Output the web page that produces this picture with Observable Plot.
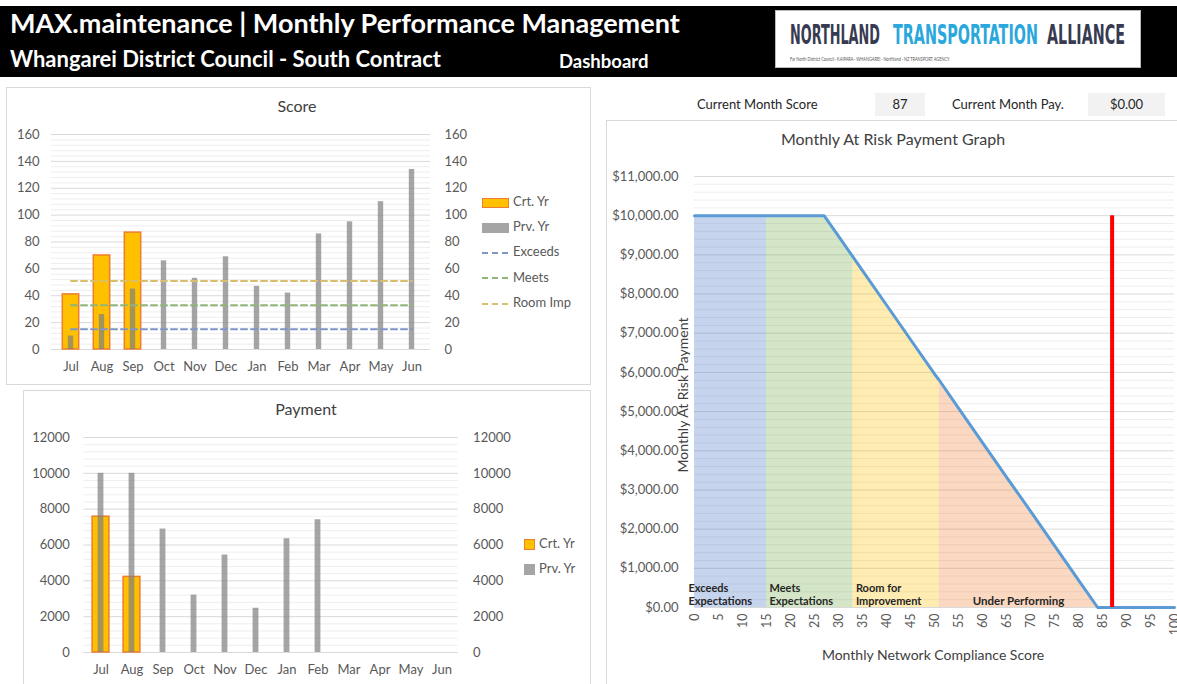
<!DOCTYPE html>
<html>
<head>
<meta charset="utf-8">
<script src="https://cdn.jsdelivr.net/npm/d3@7"></script>
<script src="https://cdn.jsdelivr.net/npm/@observablehq/plot@0.6"></script>
<style>
  html, body { margin:0; padding:0; background:#fff; width:1177px; height:684px; overflow:hidden; font-family: Lato, "Open Sans", sans-serif; }
  .abs { position:absolute; }
  .panel { position:absolute; border:1px solid #d9d9d9; background:#fff; box-sizing:border-box; }
  .ptitle { position:absolute; font-size:16px; color:#404040; transform:translateX(-50%); white-space:nowrap; }
  .leg { position:absolute; font-size:13px; color:#595959; white-space:nowrap; line-height:14px; }
  .sw { display:inline-block; vertical-align:middle; margin-right:4px; }
  .kpi { position:absolute; font-size:13px; color:#262626; white-space:nowrap; }
  .kbox { position:absolute; background:#f2f2f2; font-size:13px; color:#262626; text-align:center; line-height:23px; }
</style>
</head>
<body>
<div id="root" style="position:relative;width:1177px;height:684px;"></div>
<script>
// ---------------- DATA ----------------
const months = ["Jul","Aug","Sep","Oct","Nov","Dec","Jan","Feb","Mar","Apr","May","Jun"];
const scoreCrt = [41, 70, 87];
const scorePrv = [10, 26, 45, 66, 53, 69, 47, 42, 86, 95, 110, 134];
const targetNames = ["Exceeds", "Meets", "Room Imp"];
const targetValues = [15, 33, 51];
const payCrt = [7580, 4220];
const payPrv = [10000, 10000, 6890, 3200, 5440, 2470, 6350, 7410];
const riskScore = [0, 5, 10, 15, 20, 25, 27, 30, 33, 35, 40, 45, 50, 51, 55, 60, 65, 70, 75, 80, 84, 85, 90, 95, 100];
const riskPay   = [10000, 10000, 10000, 10000, 10000, 10000, 10000, 9480, 8950, 8600, 7720, 6840, 5960, 5800, 5090, 4210, 3330, 2460, 1580, 700, 0, 0, 0, 0, 0];
const bandNames = ["Exceeds\nExpectations", "Meets\nExpectations", "Room for\nImprovement", "Under Performing"];
const bandEdges = [0, 15, 33, 51, 84];
const currentScore = 87;
const currentPay = 0;
const scoreTicks = [0, 20, 40, 60, 80, 100, 120, 140, 160];
const payTicks = [0, 2000, 4000, 6000, 8000, 10000, 12000];
const riskYTicks = [0,1000,2000,3000,4000,5000,6000,7000,8000,9000,10000,11000];
const riskXTicks = [0,5,10,15,20,25,30,35,40,45,50,55,60,65,70,75,80,85,90,95,100];
const logoWords = ["NORTHLAND", "TRANSPORTATION", "ALLIANCE"];

// ---------------- STYLE ----------------
const C = {
  crt: "#ffc000", crtStroke: "#ed7d31", prv: "#7f7f7f",
  targets: ["#7f96c8", "#8fb57a", "#d9bf6c"],
  bands: ["#4472c4", "#70ad47", "#ffc000", "#ed7d31"],
  grid: "#d9d9d9", minor: "#eeeeee", text: "#595959"
};
const baseStyle = { fontFamily: "Lato, 'Open Sans', sans-serif", fontSize: "13px", color: C.text, background: "transparent", overflow: "visible" };
const root = document.getElementById("root");
function add(html) { root.insertAdjacentHTML("beforeend", html); }
function place(svg, left, top) { svg.style.position = "absolute"; svg.style.left = left + "px"; svg.style.top = top + "px"; root.appendChild(svg); }

// ---------------- HEADER ----------------
add(`<div class="abs" style="left:0;top:6px;width:1177px;height:71px;background:#000;"></div>`);
add(`<div class="abs" style="left:10px;top:6px;color:#fff;font-weight:700;font-size:27px;white-space:nowrap;">MAX.maintenance | Monthly Performance Management</div>`);
add(`<div class="abs" style="left:10px;top:45px;color:#fff;font-weight:700;font-size:22px;white-space:nowrap;">Whangarei District Council - South Contract</div>`);
add(`<div class="abs" style="left:559px;top:50px;color:#fff;font-weight:700;font-size:18.5px;white-space:nowrap;">Dashboard</div>`);
add(`<svg id="logo" class="abs" style="left:775px;top:10px;" width="366" height="58">
  <rect x="0.5" y="0.5" width="365" height="57" fill="#fff" stroke="#bbb"/>
</svg>`);
{
  const logo = d3.select("#logo");
  const lx = [15, 118, 272], lw = [90, 145, 78], lc = ["#373b52", "#2aa7dc", "#373b52"];
  logoWords.forEach((w, i) => {
    const g = logo.append("g");
    const t = g.append("text").attr("fill", lc[i]).attr("font-family", "'DejaVu Sans Condensed','DejaVu Sans',sans-serif")
      .attr("font-weight", 700).attr("font-size", 27).text(w);
    const len = t.node().getComputedTextLength();
    g.attr("transform", `translate(${lx[i]},34) scale(${lw[i] / len},1)`);
  });
  const g2 = logo.append("g");
  const t2 = g2.append("text").attr("fill", "#555").attr("font-family", "Lato, sans-serif").attr("font-size", 6.5)
    .text("Far North District Council · KAIPARA · WHANGAREI · Northland · NZ TRANSPORT AGENCY");
  const l2 = t2.node().getComputedTextLength();
  g2.attr("transform", `translate(15,51) scale(${Math.min(1, 160 / l2)},1)`);
}

// ---------------- PANELS ----------------
add(`<div class="panel" style="left:6px;top:87px;width:585px;height:298px;"></div>`);
add(`<div class="panel" style="left:23px;top:390px;width:568px;height:300px;"></div>`);
add(`<div class="panel" style="left:606px;top:120px;width:580px;height:570px;"></div>`);
add(`<div class="ptitle" style="left:297px;top:96px;">Score</div>`);
add(`<div class="ptitle" style="left:306px;top:399px;">Payment</div>`);
add(`<div class="ptitle" style="left:893px;top:129px;">Monthly At Risk Payment Graph</div>`);

// KPI
add(`<div class="kpi" style="left:697px;top:96px;">Current Month Score</div>`);
add(`<div class="kbox" style="left:875px;top:93px;width:50px;height:23px;">${currentScore}</div>`);
add(`<div class="kpi" style="left:952px;top:96px;">Current Month Pay.</div>`);
add(`<div class="kbox" style="left:1088px;top:93px;width:77px;height:23px;">${d3.format("$,.2f")(currentPay)}</div>`);

// ---------------- SCORE CHART ----------------
const scoreCrtRows = scoreCrt.map((v, i) => ({m: months[i], v}));
const scorePrvRows = scorePrv.map((v, i) => ({m: months[i], v}));
const minorScore = d3.range(0, 161, 4).filter(v => v % 20);
const targetRows = targetNames.flatMap((n, i) => [{n, m: months[0], v: targetValues[i]}, {n, m: months[months.length - 1], v: targetValues[i]}]);

const scorePlot = Plot.plot({
  width: 583, height: 296,
  marginLeft: 44, marginRight: 160, marginTop: 46, marginBottom: 35,
  x: {type: "band", domain: months, padding: 0},
  y: {domain: [0, 160]},
  style: baseStyle,
  marks: [
    Plot.ruleY(minorScore, {stroke: C.minor}),
    Plot.ruleY(scoreTicks, {stroke: C.grid}),
    Plot.barY(scoreCrtRows, {x: "m", y: "v", fill: C.crt, stroke: C.crtStroke, strokeWidth: 1.5, insetLeft: 7.3, insetRight: 7.3}),
    Plot.barY(scorePrvRows, {x: "m", y: "v", fill: C.prv, fillOpacity: 0.7, insetLeft: 12.8, insetRight: 12.8}),
    ...targetNames.map((n, i) => Plot.lineY(targetRows.filter(d => d.n === n), {x: "m", y: "v", stroke: C.targets[i], strokeWidth: 2, strokeDasharray: "6,4"})),
    Plot.axisY({anchor: "left", ticks: scoreTicks, tickSize: 0, tickPadding: 12, label: null}),
    Plot.axisY({anchor: "right", ticks: scoreTicks, tickSize: 0, tickPadding: 14, label: null}),
    Plot.axisX({tickSize: 0, tickPadding: 12, label: null})
  ]
});
place(scorePlot, 7, 88);

// score legend
const scoreLegend = [
  {label: "Crt. Yr", sw: `<span class="sw" style="width:25px;height:8px;background:${C.crt};border:1.5px solid ${C.crtStroke};"></span>`},
  {label: "Prv. Yr", sw: `<span class="sw" style="width:27px;height:10px;background:#a5a5a5;"></span>`},
  ...targetNames.map((n, i) => ({label: n, sw: `<svg class="sw" width="27" height="4"><line x1="0" y1="2" x2="27" y2="2" stroke="${C.targets[i]}" stroke-width="2" stroke-dasharray="6,4"/></svg>`}))
];
scoreLegend.forEach((d, i) => add(`<div class="leg" style="left:482px;top:${194 + i * 25.2}px;">${d.sw}${d.label}</div>`));

// ---------------- PAYMENT CHART ----------------
const payCrtRows = payCrt.map((v, i) => ({m: months[i], v}));
const payPrvRows = payPrv.map((v, i) => ({m: months[i], v}));
const minorPay = d3.range(0, 12001, 400).filter(v => v % 2000);
const payPlot = Plot.plot({
  width: 566, height: 293,
  marginLeft: 59.4, marginRight: 132.4, marginTop: 46, marginBottom: 32,
  x: {type: "band", domain: months, padding: 0},
  y: {domain: [0, 12000]},
  style: baseStyle,
  marks: [
    Plot.ruleY(minorPay, {stroke: C.minor}),
    Plot.ruleY(payTicks, {stroke: C.grid}),
    Plot.barY(payCrtRows, {x: "m", y: "v", fill: C.crt, stroke: C.crtStroke, strokeWidth: 1.5, insetLeft: 7.1, insetRight: 7.1}),
    Plot.barY(payPrvRows, {x: "m", y: "v", fill: C.prv, fillOpacity: 0.7, insetLeft: 12.6, insetRight: 12.6}),
    Plot.axisY({anchor: "left", ticks: payTicks, tickFormat: d3.format("d"), tickSize: 0, tickPadding: 14, label: null}),
    Plot.axisY({anchor: "right", ticks: payTicks, tickFormat: d3.format("d"), tickSize: 0, tickPadding: 15, label: null}),
    Plot.axisX({tickSize: 0, tickPadding: 12, label: null})
  ]
});
place(payPlot, 24, 391);
add(`<div class="leg" style="left:524px;top:536px;"><span class="sw" style="width:9px;height:9px;background:${C.crt};border:1.5px solid ${C.crtStroke};"></span>Crt. Yr</div>`);
add(`<div class="leg" style="left:524px;top:561px;"><span class="sw" style="width:11px;height:11px;background:#a5a5a5;"></span>Prv. Yr</div>`);

// ---------------- AT RISK CHART ----------------
const riskRows = riskScore.map((s, i) => ({s, p: riskPay[i]}));
const minorRisk = d3.range(0, 11001, 200).filter(v => v % 1000);
const bandRows = bandNames.map((n, i) => ({n, lo: bandEdges[i], hi: bandEdges[i + 1]}));
const bandText = {y: 0, text: "n", textAnchor: "start", dy: -13, lineHeight: 1.15, fontSize: 11, fontWeight: 700, fill: "#262626"};
const riskPlot = Plot.plot({
  width: 570, height: 563,
  marginLeft: 87, marginRight: 3, marginTop: 55, marginBottom: 77,
  x: {domain: [0, 100]},
  y: {domain: [0, 11000]},
  style: baseStyle,
  marks: [
    Plot.ruleY(minorRisk, {stroke: C.minor}),
    Plot.ruleY(riskYTicks, {stroke: C.grid}),
    ...bandRows.map((b, i) => Plot.areaY(riskRows.filter(d => d.s >= b.lo && d.s <= b.hi), {x: "s", y: "p", fill: C.bands[i], fillOpacity: 0.3})),
    Plot.line(riskRows, {x: "s", y: "p", stroke: "#5b9bd5", strokeWidth: 3}),
    Plot.ruleX([currentScore], {y1: 0, y2: 10000, stroke: "#ff0000", strokeWidth: 4}),
    Plot.text(bandRows.slice(0, 1), {...bandText, x: "lo", dx: -6}),
    Plot.text(bandRows.slice(1, 3), {...bandText, x: "lo", dx: 3}),
    Plot.text(bandRows.slice(3), {x: d => (d.lo + d.hi) / 2, y: 0, text: "n", textAnchor: "middle", dy: -6, fontSize: 11.5, fontWeight: 700, fill: "#262626"}),
    Plot.axisY({ticks: riskYTicks, tickFormat: d3.format("$,.2f"), tickSize: 0, tickPadding: 16, label: null}),
    Plot.axisX({ticks: riskXTicks, tickRotate: -90, tickSize: 0, tickPadding: 6, fontSize: 12.5, label: null})
  ]
});
place(riskPlot, 607, 121);
add(`<div class="abs" style="left:933px;top:646px;transform:translateX(-50%);font-size:14px;color:#404040;white-space:nowrap;">Monthly Network Compliance Score</div>`);
add(`<div class="abs" style="left:682px;top:395px;transform:translate(-50%,-50%) rotate(-90deg);font-size:14px;color:#404040;white-space:nowrap;">Monthly At Risk Payment</div>`);
</script>
</body>
</html>
